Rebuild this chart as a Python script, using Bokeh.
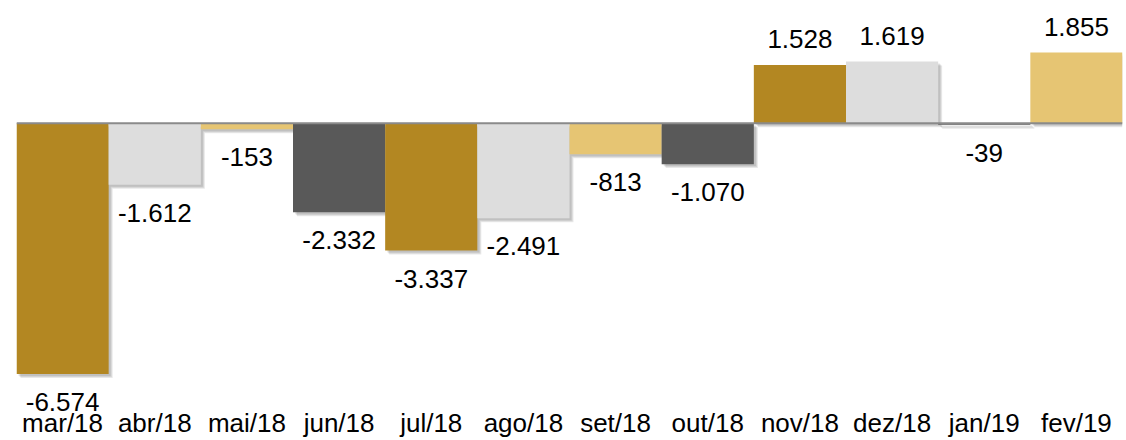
from bokeh.plotting import figure
from bokeh.models import ColumnDataSource, FactorRange, Range1d, Span
from bokeh.transform import dodge
from bokeh.core.properties import value
from bokeh.embed import file_html
from bokeh.resources import INLINE

# ---- data ----
months = ["mar/18", "abr/18", "mai/18", "jun/18", "jul/18", "ago/18",
          "set/18", "out/18", "nov/18", "dez/18", "jan/19", "fev/19"]
values = [-6574, -1612, -153, -2332, -3337, -2491, -813, -1070, 1528, 1619, -39, 1855]
colors = ["#B38722", "#DDDDDD", "#E6C573", "#595959",
          "#B38722", "#DDDDDD", "#E6C573", "#595959",
          "#B38722", "#DDDDDD", "#595959", "#E6C573"]
labels = [f"{v:,}".replace(",", ".") for v in values]

# ---- layout constants ----
W, H = 1126, 440
Y_START, Y_END = -7766, 3221
FONT = "Liberation Sans"
FS = "26px"
PX_PER_CAT = (W - 20) / len(months)
PX_PER_UNIT = 423 / (Y_END - Y_START)

label_dy = [28 if v < 0 else -26 for v in values]

src = ColumnDataSource(dict(months=months, values=values, colors=colors,
                            labels=labels, dy=label_dy))

p = figure(x_range=FactorRange(*months, range_padding=0),
           y_range=Range1d(Y_START, Y_END),
           width=W, height=H, output_backend="svg", toolbar_location=None,
           min_border_left=16, min_border_right=4, min_border_top=0, min_border_bottom=0)

# drop shadows
for off in (2, 3, 4):
    dx = off / PX_PER_CAT
    dyu = off / PX_PER_UNIT
    sh = ColumnDataSource(dict(months=months,
                               top=[v - dyu for v in values],
                               bottom=[-dyu] * len(values)))
    p.vbar(x=dodge("months", dx, range=p.x_range), top="top", bottom="bottom",
           width=1.0, source=sh, fill_color="black", fill_alpha=0.09, line_color=None)

p.vbar(x="months", top="values", bottom=0, width=1.0, source=src,
       fill_color="colors", line_color=None)

p.add_layout(Span(location=0, dimension="width", line_color="#8A8A8A", line_width=2))

p.text(x="months", y="values", text="labels", source=src, y_offset="dy",
       text_align="center", text_baseline="middle",
       text_font=value(FONT), text_font_size=FS, text_color="black")

p.yaxis.visible = False
p.xgrid.visible = False
p.ygrid.visible = False
p.outline_line_color = None
p.xaxis.axis_line_color = None
p.xaxis.major_tick_line_color = None
p.xaxis.minor_tick_line_color = None
p.xaxis.major_tick_out = 0
p.xaxis.major_tick_in = 0
p.xaxis.major_label_standoff = -12
p.xaxis.major_label_text_font = FONT
p.xaxis.major_label_text_font_size = FS
p.xaxis.major_label_text_color = "black"

open("out.html", "w").write(file_html(p, INLINE))
